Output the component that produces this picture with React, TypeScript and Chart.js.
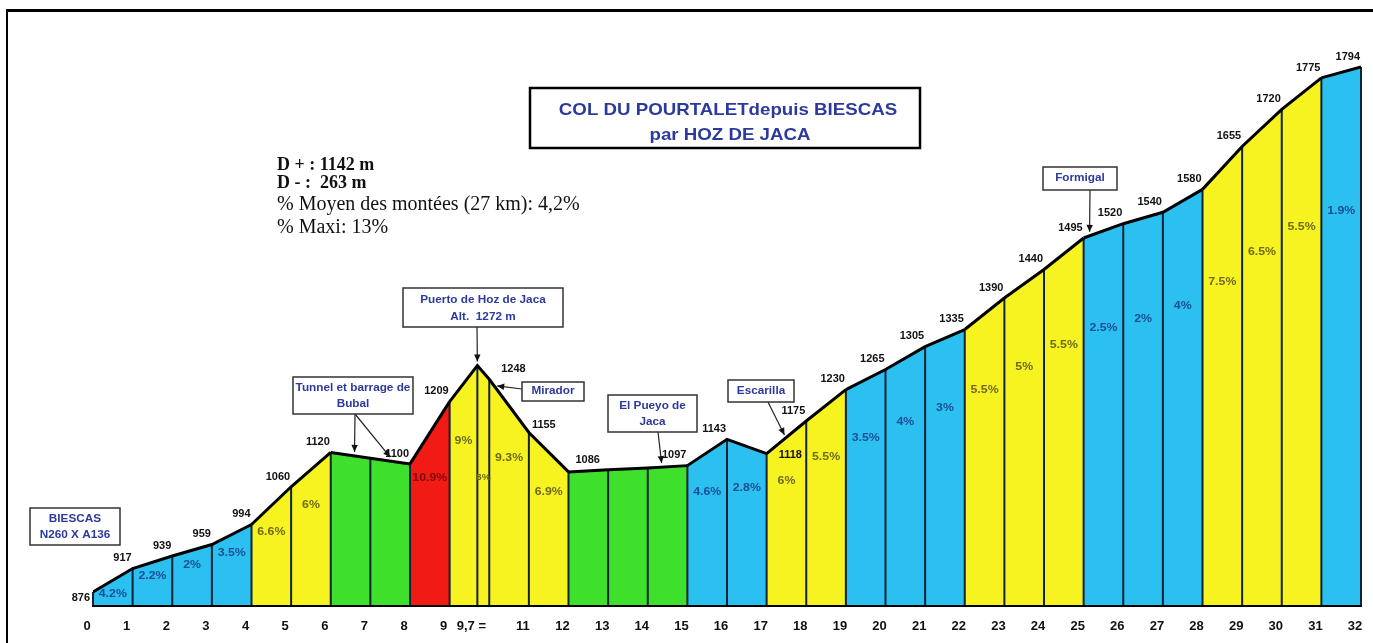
import React, { useEffect, useRef } from "react";
import { Chart, registerables } from "chart.js";

Chart.register(...registerables);

// Profile vertices: distance (km) and altitude (m)
const kmPoints = [0, 1, 2, 3, 4, 5, 6, 7, 8, 9, 9.7, 10, 11, 12, 13, 14, 15, 16, 17, 18, 19, 20, 21, 22, 23, 24, 25, 26, 27, 28, 29, 30, 31, 32];
const altitudes = [876, 917, 939, 959, 994, 1060, 1120, 1110, 1100, 1209, 1272, 1248, 1155, 1086, 1090, 1093, 1097, 1143, 1118, 1175, 1230, 1265, 1305, 1335, 1390, 1440, 1495, 1520, 1540, 1580, 1655, 1720, 1775, 1794];
const altitudeLabels = ["876", "917", "939", "959", "994", "1060", "1120", "", "1100", "1209", "", "1248", "1155", "1086", "", "", "1097", "1143", "1118", "1175", "1230", "1265", "1305", "1335", "1390", "1440", "1495", "1520", "1540", "1580", "1655", "1720", "1775", "1794"];

// One entry per segment (between consecutive vertices)
const segmentKinds = ["blue", "blue", "blue", "blue", "yellow", "yellow", "green", "green", "red", "yellow", "yellow", "yellow", "yellow", "green", "green", "green", "blue", "blue", "yellow", "yellow", "blue", "blue", "blue", "yellow", "yellow", "yellow", "blue", "blue", "blue", "yellow", "yellow", "yellow", "blue"];
const gradientLabels = ["4.2%", "2.2%", "2%", "3.5%", "6.6%", "6%", "", "", "10.9%", "9%", "8%", "9.3%", "6.9%", "", "", "", "4.6%", "2.8%", "6%", "5.5%", "3.5%", "4%", "3%", "5.5%", "5%", "5.5%", "2.5%", "2%", "4%", "7.5%", "6.5%", "5.5%", "1.9%"];

// X axis ticks
const tickValues = [0, 1, 2, 3, 4, 5, 6, 7, 8, 9, 9.7, 11, 12, 13, 14, 15, 16, 17, 18, 19, 20, 21, 22, 23, 24, 25, 26, 27, 28, 29, 30, 31, 32];
const tickLabels = ["0", "1", "2", "3", "4", "5", "6", "7", "8", "9", "9,7 =", "11", "12", "13", "14", "15", "16", "17", "18", "19", "20", "21", "22", "23", "24", "25", "26", "27", "28", "29", "30", "31", "32"];

// Texts
const titleLines = ["COL DU POURTALETdepuis BIESCAS", "par HOZ DE JACA"];
const statsLines = ["D + : 1142 m", "D - :  263 m", "% Moyen des montées (27 km): 4,2%", "% Maxi: 13%"];
const placeNames = [
  ["BIESCAS", "N260 X A136"],
  ["Tunnel et barrage de", "Bubal"],
  ["Puerto de Hoz de Jaca", "Alt.  1272 m"],
  ["Mirador"],
  ["El Pueyo de", "Jaca"],
  ["Escarilla"],
  ["Formigal"],
];
const placeKm = [[], [6.6, 7.5], [9.7], [10.2], [14.35], [17.45], [25.15]];

const FILL: Record<string, string> = { blue: "#2cc0f0", yellow: "#f6f321", green: "#3fe02c", red: "#f21a14" };
const INK: Record<string, string> = { blue: "#1b4e95", yellow: "#6e6a18", green: "#1d5a12", red: "#7d0c0c" };
const SANS = "'Liberation Sans', Arial, sans-serif";
const SERIF = "'Liberation Serif', 'Times New Roman', serif";
const BOXBLUE = "#2b3a9c";

const VIEW_W = 1373;
const VIEW_H = 643;
const CANVAS_W = 1391;

function altAt(k: number) {
  for (let i = 0; i < kmPoints.length - 1; i++) {
    if (k >= kmPoints[i] && k <= kmPoints[i + 1]) {
      const t = (k - kmPoints[i]) / (kmPoints[i + 1] - kmPoints[i]);
      return altitudes[i] + t * (altitudes[i + 1] - altitudes[i]);
    }
  }
  return altitudes[altitudes.length - 1];
}

function drawText(ctx: CanvasRenderingContext2D, s: string, x: number, y: number, font: string, color: string, align: CanvasTextAlign = "center", sx = 1) {
  ctx.save();
  ctx.font = font;
  ctx.fillStyle = color;
  ctx.textAlign = align;
  ctx.textBaseline = "middle";
  ctx.translate(x, y);
  ctx.scale(sx, 1);
  ctx.fillText(s, 0, 0);
  ctx.restore();
}

function drawArrow(ctx: CanvasRenderingContext2D, x1: number, y1: number, x2: number, y2: number) {
  ctx.save();
  ctx.strokeStyle = "#222";
  ctx.fillStyle = "#111";
  ctx.lineWidth = 1.2;
  ctx.beginPath();
  ctx.moveTo(x1, y1);
  ctx.lineTo(x2, y2);
  ctx.stroke();
  const ang = Math.atan2(y2 - y1, x2 - x1);
  const L = 7, W = 3.2;
  ctx.beginPath();
  ctx.moveTo(x2, y2);
  ctx.lineTo(x2 - L * Math.cos(ang) + W * Math.sin(ang), y2 - L * Math.sin(ang) - W * Math.cos(ang));
  ctx.lineTo(x2 - L * Math.cos(ang) - W * Math.sin(ang), y2 - L * Math.sin(ang) + W * Math.cos(ang));
  ctx.closePath();
  ctx.fill();
  ctx.restore();
}

function drawBox(ctx: CanvasRenderingContext2D, r: number[], lw: number, color = "#333") {
  ctx.save();
  ctx.fillStyle = "#fff";
  ctx.fillRect(r[0], r[1], r[2], r[3]);
  ctx.strokeStyle = color;
  ctx.lineWidth = lw;
  ctx.strokeRect(r[0], r[1], r[2], r[3]);
  ctx.restore();
}

const boxRects = [
  [30, 508, 90, 37],
  [293, 377, 120, 37],
  [403, 288, 160, 39],
  [522, 382, 62, 19],
  [608, 395, 89, 37],
  [728, 380, 66, 22],
  [1043, 167, 74, 23],
];
const boxFrom = [null, [355, 414], [477, 327], [522, 389], [658, 432], [768, 402], [1090, 190]];

const labelPlace: Record<number, [CanvasTextAlign, number, number]> = {
  0: ["right", -3, 6],
  11: ["left", 12, -10],
  12: ["left", 3, -7],
  13: ["left", 7, -12],
  18: ["left", 12, 2],
};

const profilePlugin = {
  id: "profilePlugin",
  beforeDraw(chart: any) {
    const { ctx, width, height } = chart;
    ctx.save();
    ctx.fillStyle = "#fff";
    ctx.fillRect(0, 0, width, height);
    ctx.strokeStyle = "#000";
    ctx.lineWidth = 3;
    ctx.beginPath();
    ctx.moveTo(6, 10.5);
    ctx.lineTo(width, 10.5);
    ctx.stroke();
    ctx.lineWidth = 2;
    ctx.beginPath();
    ctx.moveTo(7, 10);
    ctx.lineTo(7, height);
    ctx.stroke();
    ctx.restore();
  },
  beforeDatasetDraw(chart: any) {
    const { ctx } = chart;
    const xs = chart.scales.x, ys = chart.scales.y;
    const bottom = chart.chartArea.bottom;
    ctx.save();
    ctx.strokeStyle = "#0f2236";
    ctx.lineWidth = 2;
    kmPoints.forEach((k, i) => {
      const x = xs.getPixelForValue(k);
      const y = ys.getPixelForValue(altitudes[i]);
      ctx.beginPath();
      ctx.moveTo(x, bottom);
      ctx.lineTo(x, y);
      ctx.stroke();
    });
    ctx.restore();
  },
  afterDatasetsDraw(chart: any) {
    const { ctx } = chart;
    const xs = chart.scales.x, ys = chart.scales.y;
    const bottom = chart.chartArea.bottom;
    // gradient labels
    for (let i = 0; i < segmentKinds.length; i++) {
      const s = gradientLabels[i];
      if (!s) continue;
      const x0 = xs.getPixelForValue(kmPoints[i]);
      const x1 = xs.getPixelForValue(kmPoints[i + 1]);
      const top = ys.getPixelForValue((altitudes[i] + altitudes[i + 1]) / 2);
      const h = bottom - top;
      const w = x1 - x0;
      const frac = w < 20 ? 0.55 : 0.74;
      let y = bottom - frac * h;
      y = Math.max(y, top + 14);
      const size = w < 20 ? 9 : 11;
      drawText(ctx, s, (x0 + x1) / 2, y, `bold ${size}px ${SANS}`, INK[segmentKinds[i]], "center", 1.12);
    }
    // altitude labels
    kmPoints.forEach((k, i) => {
      const s = altitudeLabels[i];
      if (!s) return;
      const x = xs.getPixelForValue(k);
      const y = ys.getPixelForValue(altitudes[i]);
      const p = labelPlace[i] || ["right", -1, -10];
      drawText(ctx, s, x + p[1], y + p[2], `bold 10px ${SANS}`, "#111", p[0], 1.1);
    });
  },
  afterDraw(chart: any) {
    const { ctx } = chart;
    const xs = chart.scales.x, ys = chart.scales.y;
    // place annotations
    boxRects.forEach((r, bi) => {
      const from = boxFrom[bi];
      if (from) {
        placeKm[bi].forEach((k) => {
          const tx = xs.getPixelForValue(k);
          const ty = ys.getPixelForValue(altAt(k)) - 4;
          drawArrow(ctx, from[0], from[1], tx, ty);
        });
      }
      drawBox(ctx, r, 1.5);
      const lines = placeNames[bi];
      const cx = r[0] + r[2] / 2;
      lines.forEach((ln, li) => {
        const fy = lines.length === 1 ? 0.5 : li === 0 ? 0.31 : 0.74;
        drawText(ctx, ln, cx, r[1] + r[3] * fy, `bold 10.5px ${SANS}`, BOXBLUE, "center", 1.12);
      });
    });
    // title
    drawBox(ctx, [530, 88, 390, 60], 2.5, "#000");
    drawText(ctx, titleLines[0], 728, 110, `bold 17px ${SANS}`, BOXBLUE, "center", 1.1);
    drawText(ctx, titleLines[1], 730, 135, `bold 17px ${SANS}`, BOXBLUE, "center", 1.1);
    // statistics block
    ctx.save();
    ctx.fillStyle = "#111";
    ctx.textAlign = "left";
    ctx.textBaseline = "alphabetic";
    ctx.font = `bold 18px ${SERIF}`;
    ctx.fillText(statsLines[0], 277, 170);
    ctx.fillText(statsLines[1], 277, 188);
    ctx.font = `20px ${SERIF}`;
    ctx.fillText(statsLines[2], 277, 210);
    ctx.fillText(statsLines[3], 277, 233);
    ctx.restore();
  },
};

export default function App() {
  const ref = useRef<HTMLCanvasElement>(null);
  useEffect(() => {
    const canvas = ref.current;
    if (!canvas) return;
    const chart = new Chart(canvas, {
      type: "line",
      data: {
        datasets: [
          {
            data: kmPoints.map((k, i) => ({ x: k, y: altitudes[i] })),
            borderColor: "#000",
            borderWidth: 3,
            pointRadius: 0,
            tension: 0,
            fill: "start",
            backgroundColor: FILL.blue,
            segment: {
              backgroundColor: (c: any) => FILL[segmentKinds[c.p0DataIndex]],
            },
          },
        ],
      },
      options: {
        animation: false,
        responsive: false,
        maintainAspectRatio: false,
        layout: { padding: { left: 93, right: 30, top: 30, bottom: 0 } },
        plugins: { legend: { display: false }, tooltip: { enabled: false } },
        scales: {
          x: {
            type: "linear",
            min: 0,
            max: 32,
            afterBuildTicks: (scale: any) => {
              scale.ticks = tickValues.map((v) => ({ value: v }));
            },
            afterFit: (scale: any) => {
              scale.height = 38;
            },
            grid: { display: false, drawTicks: false },
            border: { display: true, color: "#000", width: 3 },
            ticks: {
              autoSkip: false,
              maxRotation: 0,
              minRotation: 0,
              labelOffset: -6,
              padding: 14,
              color: "#111",
              font: { family: SANS, weight: "bold", size: 13 },
              callback: (_v: any, index: number) => tickLabels[index],
            },
          },
          y: { display: false, min: 853.3, max: 1858.7 },
        },
      },
      plugins: [profilePlugin],
    } as any);
    return () => chart.destroy();
  }, []);
  return (
    <div style={{ position: "absolute", left: 0, top: 0, width: VIEW_W, height: VIEW_H, overflow: "hidden", background: "#fff" }}>
      <canvas ref={ref} width={CANVAS_W} height={VIEW_H} style={{ display: "block", width: CANVAS_W, height: VIEW_H }} />
    </div>
  );
}
